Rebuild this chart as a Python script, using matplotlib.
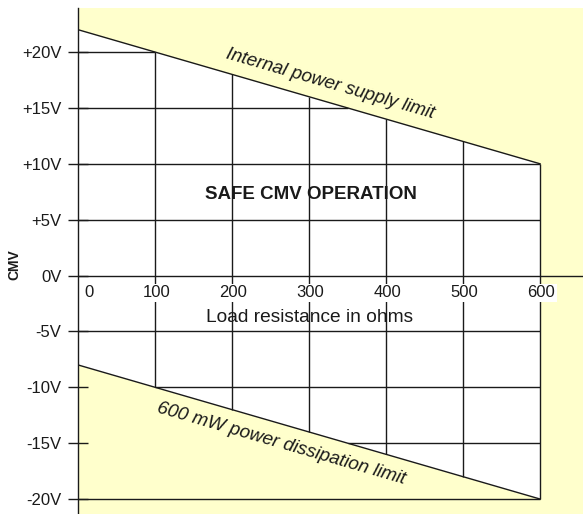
import numpy as np
import matplotlib
matplotlib.use("Agg")
import matplotlib.pyplot as plt

plt.rcParams['font.family'] = ['Liberation Sans', 'DejaVu Sans']

# ---- data ----
load_ohms = [0, 100, 200, 300, 400, 500, 600]
supply_limit_v = [22, 20, 18, 16, 14, 12, 10]          # internal power supply limit
dissipation_limit_v = [-8, -10, -12, -14, -16, -18, -20]  # 600 mW dissipation limit
y_ticks = [-20, -15, -10, -5, 0, 5, 10, 15, 20]
y_tick_labels = ['-20V', '-15V', '-10V', '-5V', '0V', '+5V', '+10V', '+15V', '+20V']
x_tick_labels = ['0', '100', '200', '300', '400', '500', '600']

YELLOW = '#FFFFCC'
INK = '#1a1a1a'

fig = plt.figure(figsize=(5.83, 5.14), dpi=100)
W, H = 583, 514
ax = fig.add_axes([78 / W, 0, 1 - 78 / W, 1 - 8 / H])
ax.set_facecolor(YELLOW)
ax.set_xlim(0, 655.8)
ax.set_ylim(-21.34, 23.94)

x = np.array(load_ohms, dtype=float)
top = np.array(supply_limit_v, dtype=float)
bot = np.array(dissipation_limit_v, dtype=float)

# safe region
ax.fill_between(x, bot, top, color='white', zorder=1, linewidth=0)

lw = 1.0
# vertical grid lines inside the safe region
ax.vlines(x[1:], bot[1:], top[1:], color=INK, lw=lw, zorder=2)

# horizontal grid lines clipped to the safe region
for v in y_ticks:
    if v == 0:
        ax.axhline(0, color=INK, lw=lw, zorder=2)
        continue
    x_lo = x[0] if v >= bot[0] else np.interp(v, bot[::-1], x[::-1])
    x_hi = x[-1] if v <= top[-1] else np.interp(v, top[::-1], x[::-1])
    if x_hi <= x_lo:
        x_lo, x_hi = x[0], x[-1]
    ax.hlines(v, x_lo, x_hi, color=INK, lw=lw, zorder=2)

# limit lines
ax.plot(x, top, color=INK, lw=lw, zorder=3)
ax.plot(x, bot, color=INK, lw=lw, zorder=3)

# spines
for s in ['top', 'right', 'bottom']:
    ax.spines[s].set_visible(False)
ax.spines['left'].set_color(INK)
ax.spines['left'].set_linewidth(lw)
ax.spines['left'].set_zorder(4)

ax.set_xticks([])
ax.set_yticks(y_ticks)
ax.set_yticklabels(y_tick_labels)
ax.tick_params(axis='y', direction='inout', length=14, width=lw, color=INK,
               pad=5, labelsize=12, labelcolor=INK)

# x tick labels sitting below the 0V line
for i, (xv, lab) in enumerate(zip(load_ohms, x_tick_labels)):
    dx = 8 if i == 0 else 1
    ax.annotate(lab, xy=(xv, 0), xytext=(dx, -12.5), textcoords='offset points',
                ha='center', va='center', fontsize=12, color=INK, zorder=5,
                bbox=dict(boxstyle='square,pad=0.1', fc='white', ec='none'))

ax.text(301, -3.75, 'Load resistance in ohms', ha='center', va='center',
        fontsize=13.8, color=INK, zorder=5)
ax.text(302.5, 7.25, 'SAFE CMV OPERATION', ha='center', va='center',
        fontsize=13.5, fontweight='bold', color=INK, zorder=5)

slope_top = (top[-1] - top[0]) / (x[-1] - x[0])
ang = np.degrees(np.arctan(slope_top))
ax.text(327, 17.1, 'Internal power supply limit', ha='center', va='center',
        rotation=ang, transform_rotates_text=True, rotation_mode='anchor',
        fontsize=13.5, style='italic', color=INK, zorder=5)
slope_bot = (bot[-1] - bot[0]) / (x[-1] - x[0])
ang2 = np.degrees(np.arctan(slope_bot))
ax.text(264, -15.1, '600 mW power dissipation limit', ha='center', va='center',
        rotation=ang2, transform_rotates_text=True, rotation_mode='anchor',
        fontsize=13.5, style='italic', color=INK, zorder=5)

fig.text(14 / W, 1 - 265 / H, 'CMV', rotation=90, ha='center', va='center',
         fontsize=10, fontweight='bold', color=INK)

fig.savefig('out.png', dpi=100)
